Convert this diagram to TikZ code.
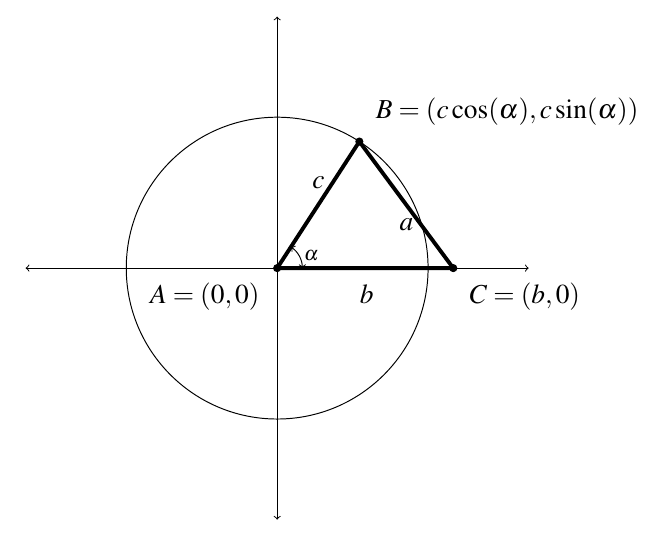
\documentclass[tikz,border=0pt]{standalone}
\usepackage{mathptmx}
\usetikzlibrary{positioning}
\begin{document}
\begin{tikzpicture}[font=\fontsize{15.5}{18}\selectfont, line width=0.55pt]
    \useasboundingbox (-5.51,-5.39) rectangle (7.65,5.33);
    % Axes
    \draw[<->] (-5,0) -- (5,0);
    \draw[<->] (0,-5) -- (0,5);
    \draw (0,0) circle (3);

    % Vertices
    \coordinate (A) at (0,0);
    \coordinate (B) at (57:3);
    \coordinate (C) at (3.5,0);

    % Triangle
    \draw[line width=2.2pt] (A) -- (B) -- (C) -- cycle;

    % Side labels
    \node (c) at (0.82,1.69) {\(c\)};
    \node (a) at (2.57,0.87) {\(a\)};
    \node[anchor=base] (b) at (1.78,-0.696) {\(b\)};

    % Angle
    \draw[<->] (0.5,0) arc (0:57:0.5);
    \node (alpha) at (0.68,0.24) {\(\scriptstyle\alpha\)};

    % Points
    \filldraw (A) circle (2pt);
    \filldraw (B) circle (2pt);
    \filldraw (C) circle (2pt);
    \node[anchor=base east, inner sep=0pt] (Alabel) at (-0.34,-0.696) {\(A=(0,0)\)};
    \node[anchor=base west, inner sep=0pt] (Blabel) at (1.95,2.98) {\(B=(c\cos(\alpha),c\sin(\alpha))\)};
    \node[anchor=base west, inner sep=0pt] (Clabel) at (3.82,-0.696) {\(C=(b,0)\)};

\end{tikzpicture}
\end{document}
